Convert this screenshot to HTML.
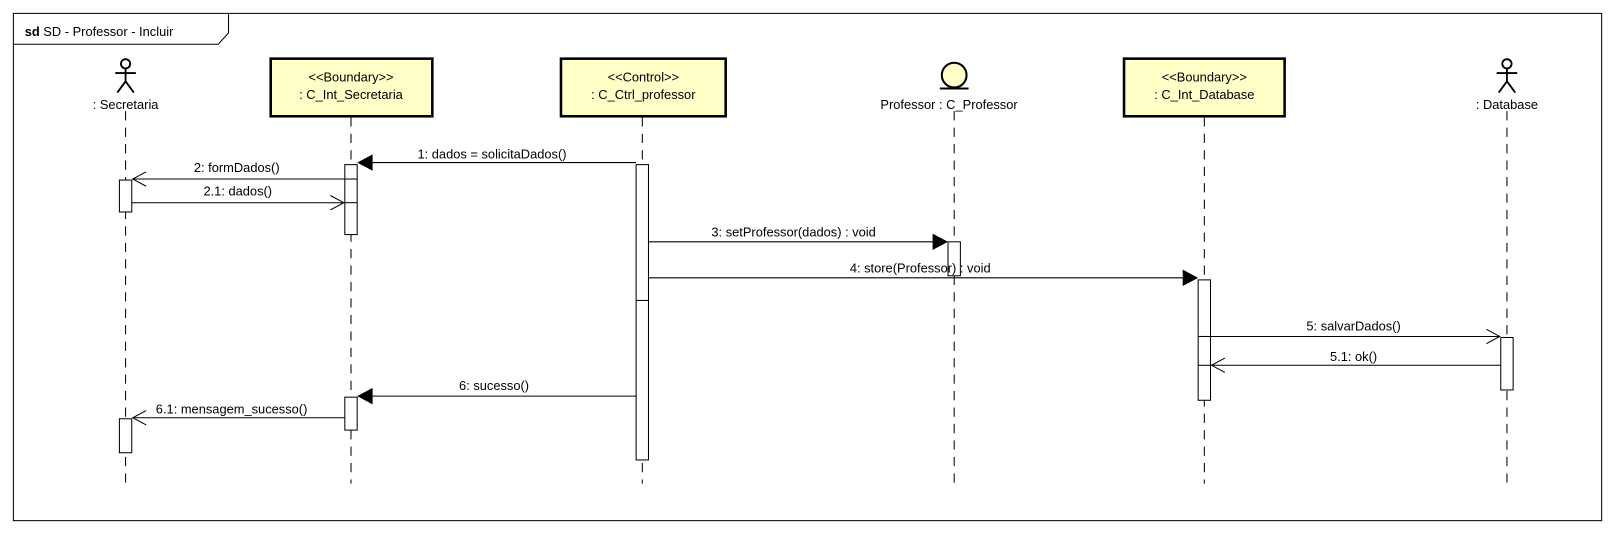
<!DOCTYPE html>
<html><head><meta charset="utf-8"><style>
html,body{margin:0;padding:0;background:#fff;width:1614px;height:533px;overflow:hidden}
svg{display:block}
text{font-family:"Liberation Sans",sans-serif;font-size:12.5px;fill:#000}
.ll{stroke:#000;stroke-width:1;stroke-dasharray:9,7}
.act{fill:#fff;stroke:#000;stroke-width:1}
.box{fill:#ffffc8;stroke:#000;stroke-width:2.5}
.m{stroke:#000;stroke-width:1;fill:none}
</style></head><body>
<svg width="1614" height="533" viewBox="0 0 1568 518" preserveAspectRatio="none">
<rect x="13" y="13" width="1543" height="493" fill="#fff" stroke="#000" stroke-width="1"/>
<path d="M13,43 H212 L222,32 V13" fill="none" stroke="#000"/>
<text x="24" y="35"><tspan font-weight="bold">sd</tspan> SD - Professor - Incluir</text>

<line class="ll" x1="122" y1="108" x2="122" y2="470"/>
<line class="ll" x1="341" y1="114" x2="341" y2="470"/>
<line class="ll" x1="624" y1="114" x2="624" y2="470"/>
<line class="ll" x1="927" y1="108" x2="927" y2="470"/>
<line class="ll" x1="1170" y1="114" x2="1170" y2="470"/>
<line class="ll" x1="1464" y1="108" x2="1464" y2="470"/>

<g stroke="#000" stroke-width="1.8" fill="none">
<circle cx="122" cy="62" r="4.5"/><line x1="122" y1="67" x2="122" y2="79"/><line x1="112" y1="71" x2="132" y2="71"/><line x1="122" y1="79" x2="114" y2="90"/><line x1="122" y1="79" x2="130" y2="90"/>
<circle cx="1464" cy="62" r="4.5"/><line x1="1464" y1="67" x2="1464" y2="79"/><line x1="1454" y1="71" x2="1474" y2="71"/><line x1="1464" y1="79" x2="1456" y2="90"/><line x1="1464" y1="79" x2="1472" y2="90"/>
</g>
<text x="122" y="106" text-anchor="middle">: Secretaria</text>
<text x="1464" y="106" text-anchor="middle">: Database</text>

<rect class="box" x="263" y="57" width="157" height="56"/>
<text x="341" y="79" text-anchor="middle">&lt;&lt;Boundary&gt;&gt;</text>
<text x="341" y="96" text-anchor="middle">: C_Int_Secretaria</text>
<rect class="box" x="545" y="57" width="160" height="56"/>
<text x="625" y="79" text-anchor="middle">&lt;&lt;Control&gt;&gt;</text>
<text x="625" y="96" text-anchor="middle">: C_Ctrl_professor</text>
<rect class="box" x="1092" y="57" width="156" height="56"/>
<text x="1170" y="79" text-anchor="middle">&lt;&lt;Boundary&gt;&gt;</text>
<text x="1170" y="96" text-anchor="middle">: C_Int_Database</text>

<circle cx="927" cy="73" r="12" fill="#ffffc8" stroke="#000" stroke-width="2"/>
<line x1="913" y1="86" x2="941" y2="86" stroke="#000" stroke-width="2"/>
<text x="922" y="106" text-anchor="middle">Professor : C_Professor</text>

<rect class="act" x="335" y="160" width="12" height="68"/>
<line x1="335" y1="174" x2="347" y2="174" stroke="#000"/><line x1="335" y1="197" x2="347" y2="197" stroke="#000"/>
<rect class="act" x="116" y="175" width="12" height="31"/>
<rect class="act" x="618" y="160" width="12" height="287"/>
<line x1="618" y1="292" x2="630" y2="292" stroke="#000"/>
<rect class="act" x="921" y="235" width="12" height="33"/>
<rect class="act" x="1164" y="272" width="12" height="117"/>
<line x1="1164" y1="327" x2="1176" y2="327" stroke="#000"/><line x1="1164" y1="355" x2="1176" y2="355" stroke="#000"/>
<rect class="act" x="1458" y="328" width="12" height="51"/>
<rect class="act" x="335" y="386" width="12" height="32"/>
<rect class="act" x="116" y="407" width="12" height="33"/>

<line class="m" x1="618" y1="158" x2="360" y2="158"/><polygon points="347,158 362,150 362,166"/>
<text x="478" y="154" text-anchor="middle">1: dados = solicitaDados()</text>
<line class="m" x1="335" y1="174" x2="129" y2="174"/><polyline class="m" points="142,167 129,174 142,181"/>
<text x="230" y="167" text-anchor="middle">2: formDados()</text>
<line class="m" x1="128" y1="197" x2="334" y2="197"/><polyline class="m" points="321,190 334,197 321,204"/>
<text x="231" y="190" text-anchor="middle">2.1: dados()</text>
<line class="m" x1="630" y1="235" x2="908" y2="235"/><polygon points="921,235 906,227 906,243"/>
<text x="771" y="230" text-anchor="middle">3: setProfessor(dados) : void</text>
<line class="m" x1="630" y1="270" x2="1151" y2="270"/><polygon points="1164,270 1149,262 1149,278"/>
<text x="894" y="265" text-anchor="middle">4: store(Professor) : void</text>
<line class="m" x1="1176" y1="327" x2="1457" y2="327"/><polyline class="m" points="1444,320 1457,327 1444,334"/>
<text x="1315" y="321" text-anchor="middle">5: salvarDados()</text>
<line class="m" x1="1458" y1="355" x2="1177" y2="355"/><polyline class="m" points="1190,348 1177,355 1190,362"/>
<text x="1315" y="351" text-anchor="middle">5.1: ok()</text>
<line class="m" x1="618" y1="385" x2="360" y2="385"/><polygon points="347,385 362,377 362,393"/>
<text x="480" y="379" text-anchor="middle">6: sucesso()</text>
<line class="m" x1="335" y1="406" x2="129" y2="406"/><polyline class="m" points="142,399 129,406 142,413"/>
<text x="225" y="402" text-anchor="middle">6.1: mensagem_sucesso()</text>
</svg>
</body></html>
